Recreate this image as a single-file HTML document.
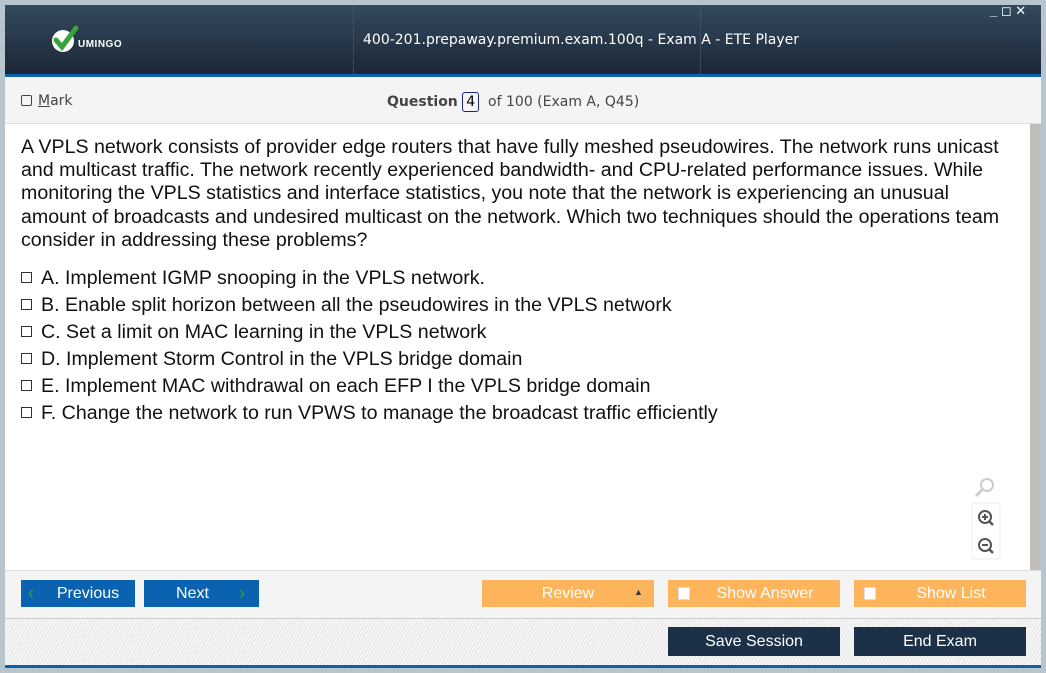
<!DOCTYPE html>
<html><head><style>
*{margin:0;padding:0;box-sizing:border-box}
body{width:1046px;height:673px;background:#b9c5cc;position:relative;overflow:hidden;font-family:"Liberation Sans","DejaVu Sans",sans-serif}
.a{position:absolute}
.hdr{left:5px;top:5px;width:1036px;height:69px;background:linear-gradient(#344a5f,#1b2736)}
.blue{background:#0a62b0}
.tb{left:5px;top:77px;width:1036px;height:47px;background:#f4f4f4;border-bottom:1px solid #ddd}
.content{left:5px;top:124px;width:1025px;height:446px;background:#fff}
.q{left:21px;top:136px;width:995px;font-size:19.6px;line-height:23.2px;color:#111}
.opt{left:21px;font-size:19.6px;color:#111;white-space:nowrap}
.opt span{display:inline-block;width:11px;height:11px;border:1px solid #333;margin-right:9px;vertical-align:1px}
.btn{height:27px;color:#fff;font-size:16px;line-height:27px;text-align:center}
.bar{left:5px;top:570px;width:1036px;height:48px;background:#f4f4f4;border-top:1px solid #ddd}
.hatch{left:5px;top:618px;width:1036px;height:47px;background:repeating-linear-gradient(-60deg,#e4e4e4 0 1px,#f7f7f7 1px 3px);border-top:1px solid #ccc}
</style></head><body>
<div class="a hdr"></div>
<div class="a" style="left:353px;top:7px;height:67px;border-left:1px dotted #4060a0"></div>
<div class="a" style="left:700px;top:7px;height:67px;border-left:1px dotted #4060a0"></div>
<svg class="a" style="left:50px;top:25px" width="30" height="28"><circle cx="13" cy="16" r="11" fill="#fff"/><path d="M6 15 L12 22 L26 3" stroke="#3aa23a" stroke-width="5" fill="none" stroke-linecap="round"/></svg>
<div class="a" style="left:78px;top:39px;color:#fff;font-size:10px;font-weight:bold;letter-spacing:0.5px">UMINGO</div>
<div class="a" style="left:363px;top:32px;color:#fff;font-family:'DejaVu Sans',sans-serif;font-size:14px">400-201.prepaway.premium.exam.100q - Exam A - ETE Player</div>
<div class="a" style="left:990px;top:3px;color:#fff;font-size:13px;font-weight:bold">_ ◻ ✕</div>
<div class="a blue" style="left:5px;top:74px;width:1036px;height:3px"></div>
<div class="a tb"></div>
<div class="a" style="left:21px;top:95px;width:11px;height:11px;border:1px solid #444;border-radius:2px"></div>
<div class="a" style="left:38px;top:93px;color:#444;font-family:'DejaVu Sans',sans-serif;font-size:14px"><u>M</u>ark</div>
<div class="a" style="left:387px;top:92px;font-size:14px;color:#444;font-family:'DejaVu Sans',sans-serif"><b>Question</b> <span style="display:inline-block;border:1px solid #1a237e;border-radius:3px;padding:1px 3px;color:#000">4</span>&nbsp; of 100 (Exam A, Q45)</div>
<div class="a content"></div>
<div class="a" style="left:1030px;top:124px;width:10px;height:446px;background:#c0bdb8"></div>
<div class="a q">A VPLS network consists of provider edge routers that have fully meshed pseudowires. The network runs unicast and multicast traffic. The network recently experienced bandwidth- and CPU-related performance issues. While monitoring the VPLS statistics and interface statistics, you note that the network is experiencing an unusual amount of broadcasts and undesired multicast on the network. Which two techniques should the operations team consider in addressing these problems?</div>
<div class="a opt" style="top:267px"><span></span>A. Implement IGMP snooping in the VPLS network.</div>
<div class="a opt" style="top:294px"><span></span>B. Enable split horizon between all the pseudowires in the VPLS network</div>
<div class="a opt" style="top:321px"><span></span>C. Set a limit on MAC learning in the VPLS network</div>
<div class="a opt" style="top:348px"><span></span>D. Implement Storm Control in the VPLS bridge domain</div>
<div class="a opt" style="top:375px"><span></span>E. Implement MAC withdrawal on each EFP I the VPLS bridge domain</div>
<div class="a opt" style="top:402px"><span></span>F. Change the network to run VPWS to manage the broadcast traffic efficiently</div>
<svg class="a" style="left:970px;top:475px" width="32" height="85"><circle cx="17" cy="10" r="6" fill="none" stroke="#ccc" stroke-width="2"/><line x1="12" y1="15" x2="6" y2="21" stroke="#ccc" stroke-width="3"/><rect x="2" y="28" width="28" height="56" rx="2" fill="#fff" stroke="#eee"/><circle cx="15" cy="42" r="6" fill="none" stroke="#555" stroke-width="2"/><line x1="12" y1="42" x2="18" y2="42" stroke="#555" stroke-width="2"/><line x1="15" y1="39" x2="15" y2="45" stroke="#555" stroke-width="2"/><line x1="19" y1="46" x2="23" y2="50" stroke="#555" stroke-width="2.5"/><circle cx="15" cy="70" r="6" fill="none" stroke="#555" stroke-width="2"/><line x1="12" y1="70" x2="18" y2="70" stroke="#555" stroke-width="2"/><line x1="19" y1="74" x2="23" y2="78" stroke="#555" stroke-width="2.5"/></svg>
<div class="a bar"></div>
<div class="a btn blue" style="left:21px;top:580px;width:114px;padding-left:20px">Previous</div>
<div class="a" style="left:28px;top:583px;color:#3aa23a;font-size:18px">&#x2039;</div>
<div class="a btn blue" style="left:144px;top:580px;width:115px;padding-right:18px">Next</div>
<div class="a" style="left:239px;top:583px;color:#3aa23a;font-size:18px">&#x203A;</div>
<div class="a btn" style="left:482px;top:580px;width:172px;background:#fdb45a">Review</div>
<div class="a" style="left:634px;top:587px;color:#2d3a4a;font-size:9px">▲</div>
<div class="a btn" style="left:668px;top:580px;width:172px;background:#fdb45a;padding-left:22px">Show Answer</div>
<div class="a" style="left:678px;top:587px;width:12px;height:13px;background:#fff;border:1px solid #ddd"></div>
<div class="a btn" style="left:854px;top:580px;width:172px;background:#fdb45a;padding-left:22px">Show List</div>
<div class="a" style="left:864px;top:587px;width:12px;height:13px;background:#fff;border:1px solid #ddd"></div>
<div class="a hatch"></div>
<div class="a btn" style="left:668px;top:627px;width:172px;height:29px;line-height:29px;background:#1c3148">Save Session</div>
<div class="a btn" style="left:854px;top:627px;width:172px;height:29px;line-height:29px;background:#1c3148">End Exam</div>
<div class="a blue" style="left:5px;top:665px;width:1036px;height:3px"></div>
</body></html>
